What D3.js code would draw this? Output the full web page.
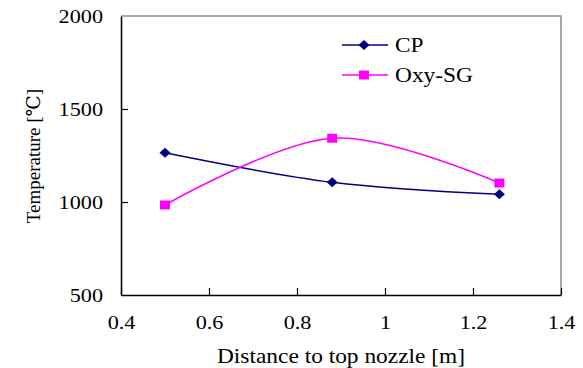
<!DOCTYPE html>
<meta charset="utf-8">
<style>
body { margin: 0; background: #fff; }
svg text { font-family: "Times New Roman", "Liberation Serif", "DejaVu Serif", serif; fill: #000; }
.axis .domain { stroke: #000; stroke-width: 1.5px; }
.axis .tick line { stroke: #000; stroke-width: 1.2px; }
</style>
<svg id="chart" width="583" height="368"></svg>
<script src="https://cdnjs.cloudflare.com/ajax/libs/d3/7.8.5/d3.min.js"></script>
<script>

// data
var distance = [0.5, 0.88, 1.26];
var cpTemp = [1265, 1106, 1041];
var oxyTemp = [984, 1343, 1102];
var seriesNames = ["CP", "Oxy-SG"];
var seriesColors = ["#000080", "#ff00ff"];
var xTicks = [0.4, 0.6, 0.8, 1, 1.2, 1.4];
var yTicks = [500, 1000, 1500, 2000];

var svg = d3.select("#chart"),
    margin = {top: 16, right: 22, bottom: 73, left: 121},
    width = +svg.attr("width") - margin.left - margin.right,
    height = +svg.attr("height") - margin.top - margin.bottom,
    stretch = 1.17;

var g = svg.append("g").attr("transform", "translate(" + margin.left + "," + margin.top + ")");

var x = d3.scaleLinear().domain([0.4, 1.4]).range([0, width]);
var y = d3.scaleLinear().domain([500, 2000]).range([height, 0]);

// top and right frame (grey)
g.append("path")
    .attr("d", "M0,0H" + width + "V" + height)
    .attr("fill", "none")
    .attr("stroke", "#8c8c8c")
    .attr("stroke-width", 1.5);

var xAxis = g.append("g")
    .attr("class", "axis")
    .attr("transform", "translate(0," + height + ")")
    .call(d3.axisBottom(x).tickValues(xTicks).tickSizeInner(-7).tickSizeOuter(0).tickPadding(21)
      .tickFormat(function(d) { return String(d); }));

xAxis.attr("font-family", null);
xAxis.selectAll("text")
    .attr("font-size", 19)
    .attr("transform", "scale(" + stretch + ",1)");

var yAxis = g.append("g")
    .attr("class", "axis")
    .call(d3.axisLeft(y).tickValues(yTicks).tickSizeInner(-7).tickSizeOuter(0)
      .tickFormat(function(d) { return String(d); }));

yAxis.attr("font-family", null);
yAxis.selectAll("text")
    .attr("font-size", 19)
    .attr("x", -18 / stretch)
    .attr("dy", "0.34em")
    .attr("transform", "scale(" + stretch + ",1)");

yAxis.selectAll(".tick").filter(function(d) { return d === 500 || d === 2000; }).select("line").remove();

// axis titles
svg.append("text")
    .attr("transform", "translate(" + (margin.left + width / 2) + ",363) scale(" + stretch + ",1)")
    .attr("text-anchor", "middle")
    .attr("font-size", 20)
    .text("Distance to top nozzle [m]");

svg.append("text")
    .attr("transform", "translate(40," + 156 + ") rotate(-90)")
    .attr("text-anchor", "middle")
    .attr("font-size", 19)
    .text("Temperature [℃]");

var series = [
  {name: seriesNames[0], color: seriesColors[0], values: cpTemp, shape: d3.symbolDiamond},
  {name: seriesNames[1], color: seriesColors[1], values: oxyTemp, shape: d3.symbolSquare}
];

var line = d3.line()
    .x(function(d) { return x(d[0]); })
    .y(function(d) { return y(d[1]); })
    .curve(d3.curveCardinal.tension(0));

function marker(sel, s) {
  if (s.shape === d3.symbolSquare) {
    sel.append("rect")
        .attr("x", -5).attr("y", -4.5)
        .attr("width", 10).attr("height", 9)
        .attr("fill", s.color);
  } else {
    sel.append("path")
        .attr("d", "M0,-5L5.5,0L0,5L-5.5,0Z")
        .attr("fill", s.color);
  }
}

series.forEach(function(s) {
  var pts = distance.map(function(d, i) { return [d, s.values[i]]; });

  g.append("path")
      .datum(pts)
      .attr("fill", "none")
      .attr("stroke", s.color)
      .attr("stroke-width", 1.5)
      .attr("d", line);

  g.selectAll(null)
      .data(pts)
      .enter().append("g")
        .attr("transform", function(d) { return "translate(" + x(d[0]) + "," + y(d[1]) + ")"; })
        .each(function() { marker(d3.select(this), s); });
});

// legend
var legend = svg.append("g")
  .selectAll("g")
  .data(series)
  .enter().append("g")
    .attr("transform", function(d, i) { return "translate(342," + (45 + i * 30) + ")"; });

legend.append("line")
    .attr("x1", 0).attr("x2", 46)
    .attr("stroke", function(d) { return d.color; })
    .attr("stroke-width", 1.5);

legend.append("g")
    .attr("transform", "translate(22,0)")
    .each(function(d) { marker(d3.select(this), d); });

legend.append("text")
    .attr("transform", "translate(53,7) scale(" + stretch + ",1)")
    .attr("font-size", 20)
    .text(function(d) { return d.name; });

</script>
